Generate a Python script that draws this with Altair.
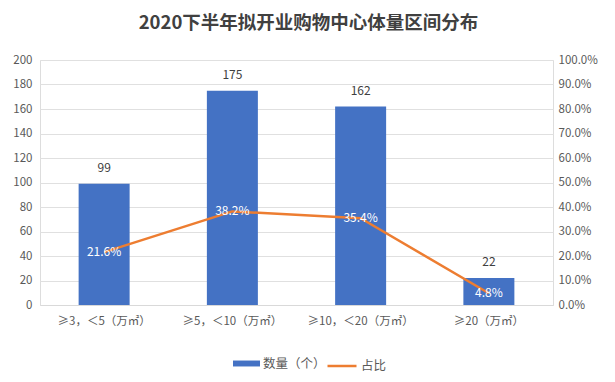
import altair as alt
import pandas as pd

categories = ["≥3，＜5（万㎡）", "≥5，＜10（万㎡）", "≥10，＜20（万㎡）", "≥20（万㎡）"]
counts = [99, 175, 162, 22]
shares = [0.216, 0.382, 0.354, 0.048]
share_labels = ["21.6%", "38.2%", "35.4%", "4.8%"]
bar_series = "数量（个）"
line_series = "占比"

df = pd.DataFrame({
    "cat": categories,
    "count": counts,
    "share": shares,
    "share_label": share_labels,
    "s": [bar_series] * len(categories),
    "t": [line_series] * len(categories),
})

FONT = "Microsoft YaHei, Noto Sans CJK SC, sans-serif"
GRAY = "#595959"

x = alt.X("cat:N", sort=categories, title=None,
          scale=alt.Scale(paddingInner=0.6, paddingOuter=0.3),
          axis=alt.Axis(labelAngle=0, labelPadding=10, ticks=False, domainColor="#D9D9D9",
                        labelColor=GRAY, labelFontSize=11.5, labelFont=FONT))

y_left = alt.Y("count:Q", title=None,
               scale=alt.Scale(domain=[0, 200], nice=False),
               axis=alt.Axis(values=list(range(0, 201, 20)), ticks=False, domain=False,
                             gridColor="#E0E0E0", labelPadding=8, labelColor=GRAY,
                             labelFontSize=11.5, labelFont=FONT))

y_right = alt.Y("share:Q", title=None,
                scale=alt.Scale(domain=[0, 1], nice=False),
                axis=alt.Axis(orient="right", values=[i / 10 for i in range(11)], format=".1%",
                              ticks=False, domain=False, grid=False, labelPadding=5,
                              labelColor=GRAY, labelFontSize=11.5, labelFont=FONT))

base = alt.Chart(df)

bars = base.mark_bar(size=51).encode(
    x=x, y=y_left,
    color=alt.Color("s:N", scale=alt.Scale(domain=[bar_series], range=["#4472C4"]),
                    legend=alt.Legend(title=None, orient="none", legendX=193, legendY=290,
                                      symbolType="M-1,-0.22H1V0.22H-1Z", symbolSize=729,
                                      symbolStrokeWidth=0, labelFontSize=12.5, labelColor=GRAY,
                                      labelFont=FONT, labelOffset=3)),
)
bar_text = base.mark_text(baseline="bottom", dy=-9, fontSize=12, color="#404040", font=FONT).encode(
    x=x, y=y_left, text="count:Q"
)

line = base.mark_line(interpolate="linear", strokeWidth=2.5, strokeJoin="round").encode(
    x=x, y=y_right,
    stroke=alt.Stroke("t:N", scale=alt.Scale(domain=[line_series], range=["#ED7D31"]),
                      legend=alt.Legend(title=None, orient="none", legendX=286, legendY=290,
                                        symbolType="stroke", symbolSize=841,
                                        symbolStrokeWidth=2.5, labelFontSize=12.5,
                                        labelColor=GRAY, labelFont=FONT, labelOffset=3)),
)
line_text = base.mark_text(fontSize=12, color="white", font=FONT, baseline="middle").encode(
    x=x, y=y_right, text="share_label:N"
)

left = alt.layer(bars, bar_text)
right = alt.layer(line, line_text)

chart = alt.layer(left, right).resolve_scale(y="independent", color="independent").properties(
    width=513,
    height=245,
    autosize=alt.AutoSizeParams(type="none"),
    padding={"left": 32, "top": 52, "right": 54, "bottom": 69},
    title=alt.TitleParams("2020下半年拟开业购物中心体量区间分布", fontSize=18.5, fontWeight="bold",
                          color="#404040", font=FONT, anchor="middle", dx=12, offset=22),
).configure_view(stroke=None).configure(background="white")

chart.save("out.html", embed_options={"renderer": "svg", "actions": False})
